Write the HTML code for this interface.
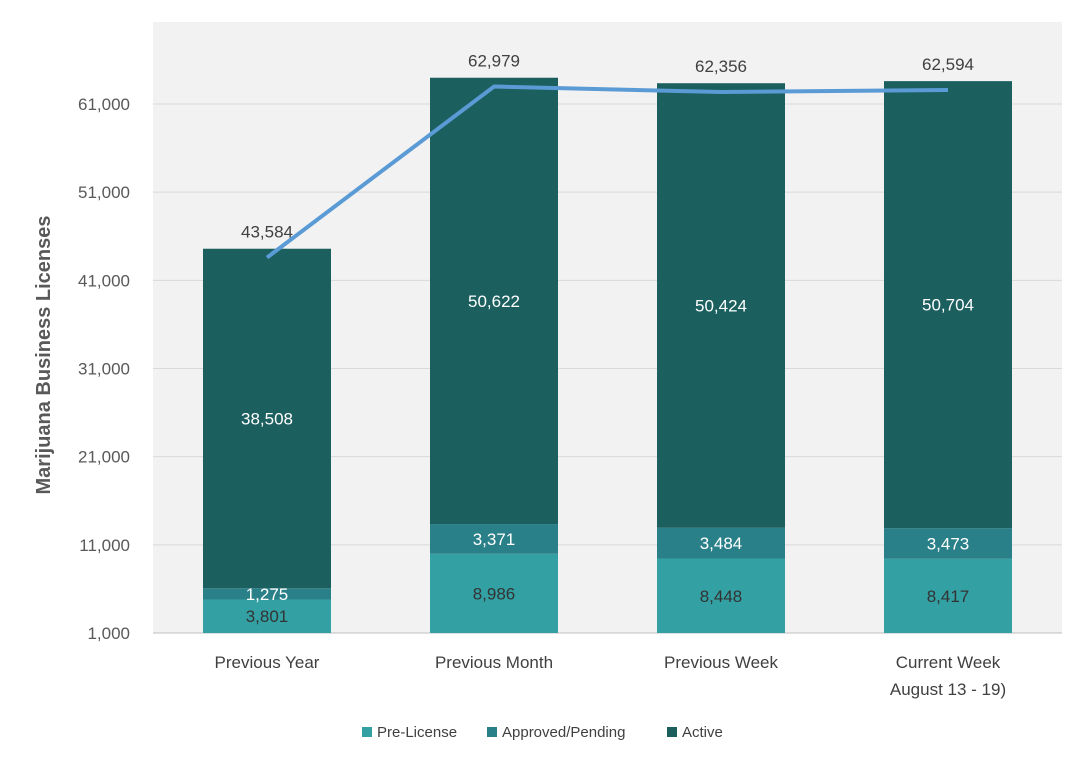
<!DOCTYPE html>
<html><head><meta charset="utf-8"><style>
body{margin:0;background:#fff;font-family:"Liberation Sans",Arial,sans-serif;}
svg text{font-family:"Liberation Sans",Arial,sans-serif;}
</style></head><body>
<svg id="chart" width="1084" height="763" xmlns="http://www.w3.org/2000/svg">
<rect x="153" y="22" width="909" height="611" fill="#f2f2f2"/>
<g id="grid"></g><g id="bars"></g><g id="line"></g><g id="labels"></g>
<text transform="translate(50,355) rotate(-90)" text-anchor="middle" font-size="20" font-weight="bold" fill="#595959">Marijuana Business Licenses</text>
<g>
<rect x="362" y="727" width="10" height="10" fill="#33a0a3"/>
<text x="377" y="737" font-size="15" fill="#404040">Pre-License</text>
<rect x="487" y="727" width="10" height="10" fill="#2a8088"/>
<text x="502" y="737" font-size="15" fill="#404040">Approved/Pending</text>
<rect x="667" y="727" width="10" height="10" fill="#1c5f5f"/>
<text x="682" y="737" font-size="15" fill="#404040">Active</text>
</g>
</svg>
<script>
const categories=["Previous Year","Previous Month","Previous Week","Current Week|August 13 - 19)"];
const preLicense=[3801,8986,8448,8417];
const approved=[1275,3371,3484,3473];
const active=[38508,50622,50424,50704];
const totals=[43584,62979,62356,62594];
const yTicks=[1000,11000,21000,31000,41000,51000,61000];
const NS="http://www.w3.org/2000/svg";
const yMin=1000,yMax=61000,y0=633,y1=104;
function y(v){return y0-(v-yMin)/(yMax-yMin)*(y0-y1);}
function x(i){return 267+i*227;}
function mk(p,t,a){const e=document.createElementNS(NS,t);for(const k in a)e.setAttribute(k,a[k]);document.getElementById(p).appendChild(e);return e;}
yTicks.forEach(t=>{
 const l=mk('grid','line',{x1:153,x2:1062,y1:y(t),y2:y(t),stroke:t===yMin?'#bfbfbf':'#d9d9d9','stroke-width':1});
 
 
 const tx=mk('grid','text',{x:130,y:y(t)+6,'text-anchor':'end','font-size':17,fill:'#595959'});
 tx.textContent=t.toLocaleString('en-US');
 
 
});
const cols=['#33a0a3','#2a8088','#1c5f5f'];
const series=[preLicense,approved,active];
const names=['pre-license','approved','active'];
const txtCol=['#333','#fff','#fff'];
const bw=128;
categories.forEach((c,i)=>{
 let base=yMin;
 series.forEach((s,k)=>{
  const top=base+s[i];
  const r=mk('bars','rect',{x:x(i)-bw/2,y:y(top),width:bw,height:y(base)-y(top),fill:cols[k]});
  
  
  const t=mk('labels','text',{x:x(i),y:(y(base)+y(top))/2+6,'text-anchor':'middle','font-size':17,fill:k===0?'#333':(k===1?'#fff':'#fff')});
  t.textContent=s[i].toLocaleString('en-US');
  
  
  base=top;
 });
 const parts=c.split('|');
 parts.forEach((p,j)=>{
  const t=mk('labels','text',{x:x(i),y:668+j*27,'text-anchor':'middle','font-size':17,fill:'#404040'});
  t.textContent=p;
  
  
 });
 const tt=mk('labels','text',{x:x(i),y:y(totals[i])-20,'text-anchor':'middle','font-size':17,fill:'#404040'});
 tt.textContent=totals[i].toLocaleString('en-US');
 
 
});
const pl=mk('line','polyline',{points:totals.map((v,i)=>x(i)+','+y(v)).join(' '),fill:'none',stroke:'#5b9bd5','stroke-width':4,'stroke-linejoin':'round'});


</script>
</body></html>
